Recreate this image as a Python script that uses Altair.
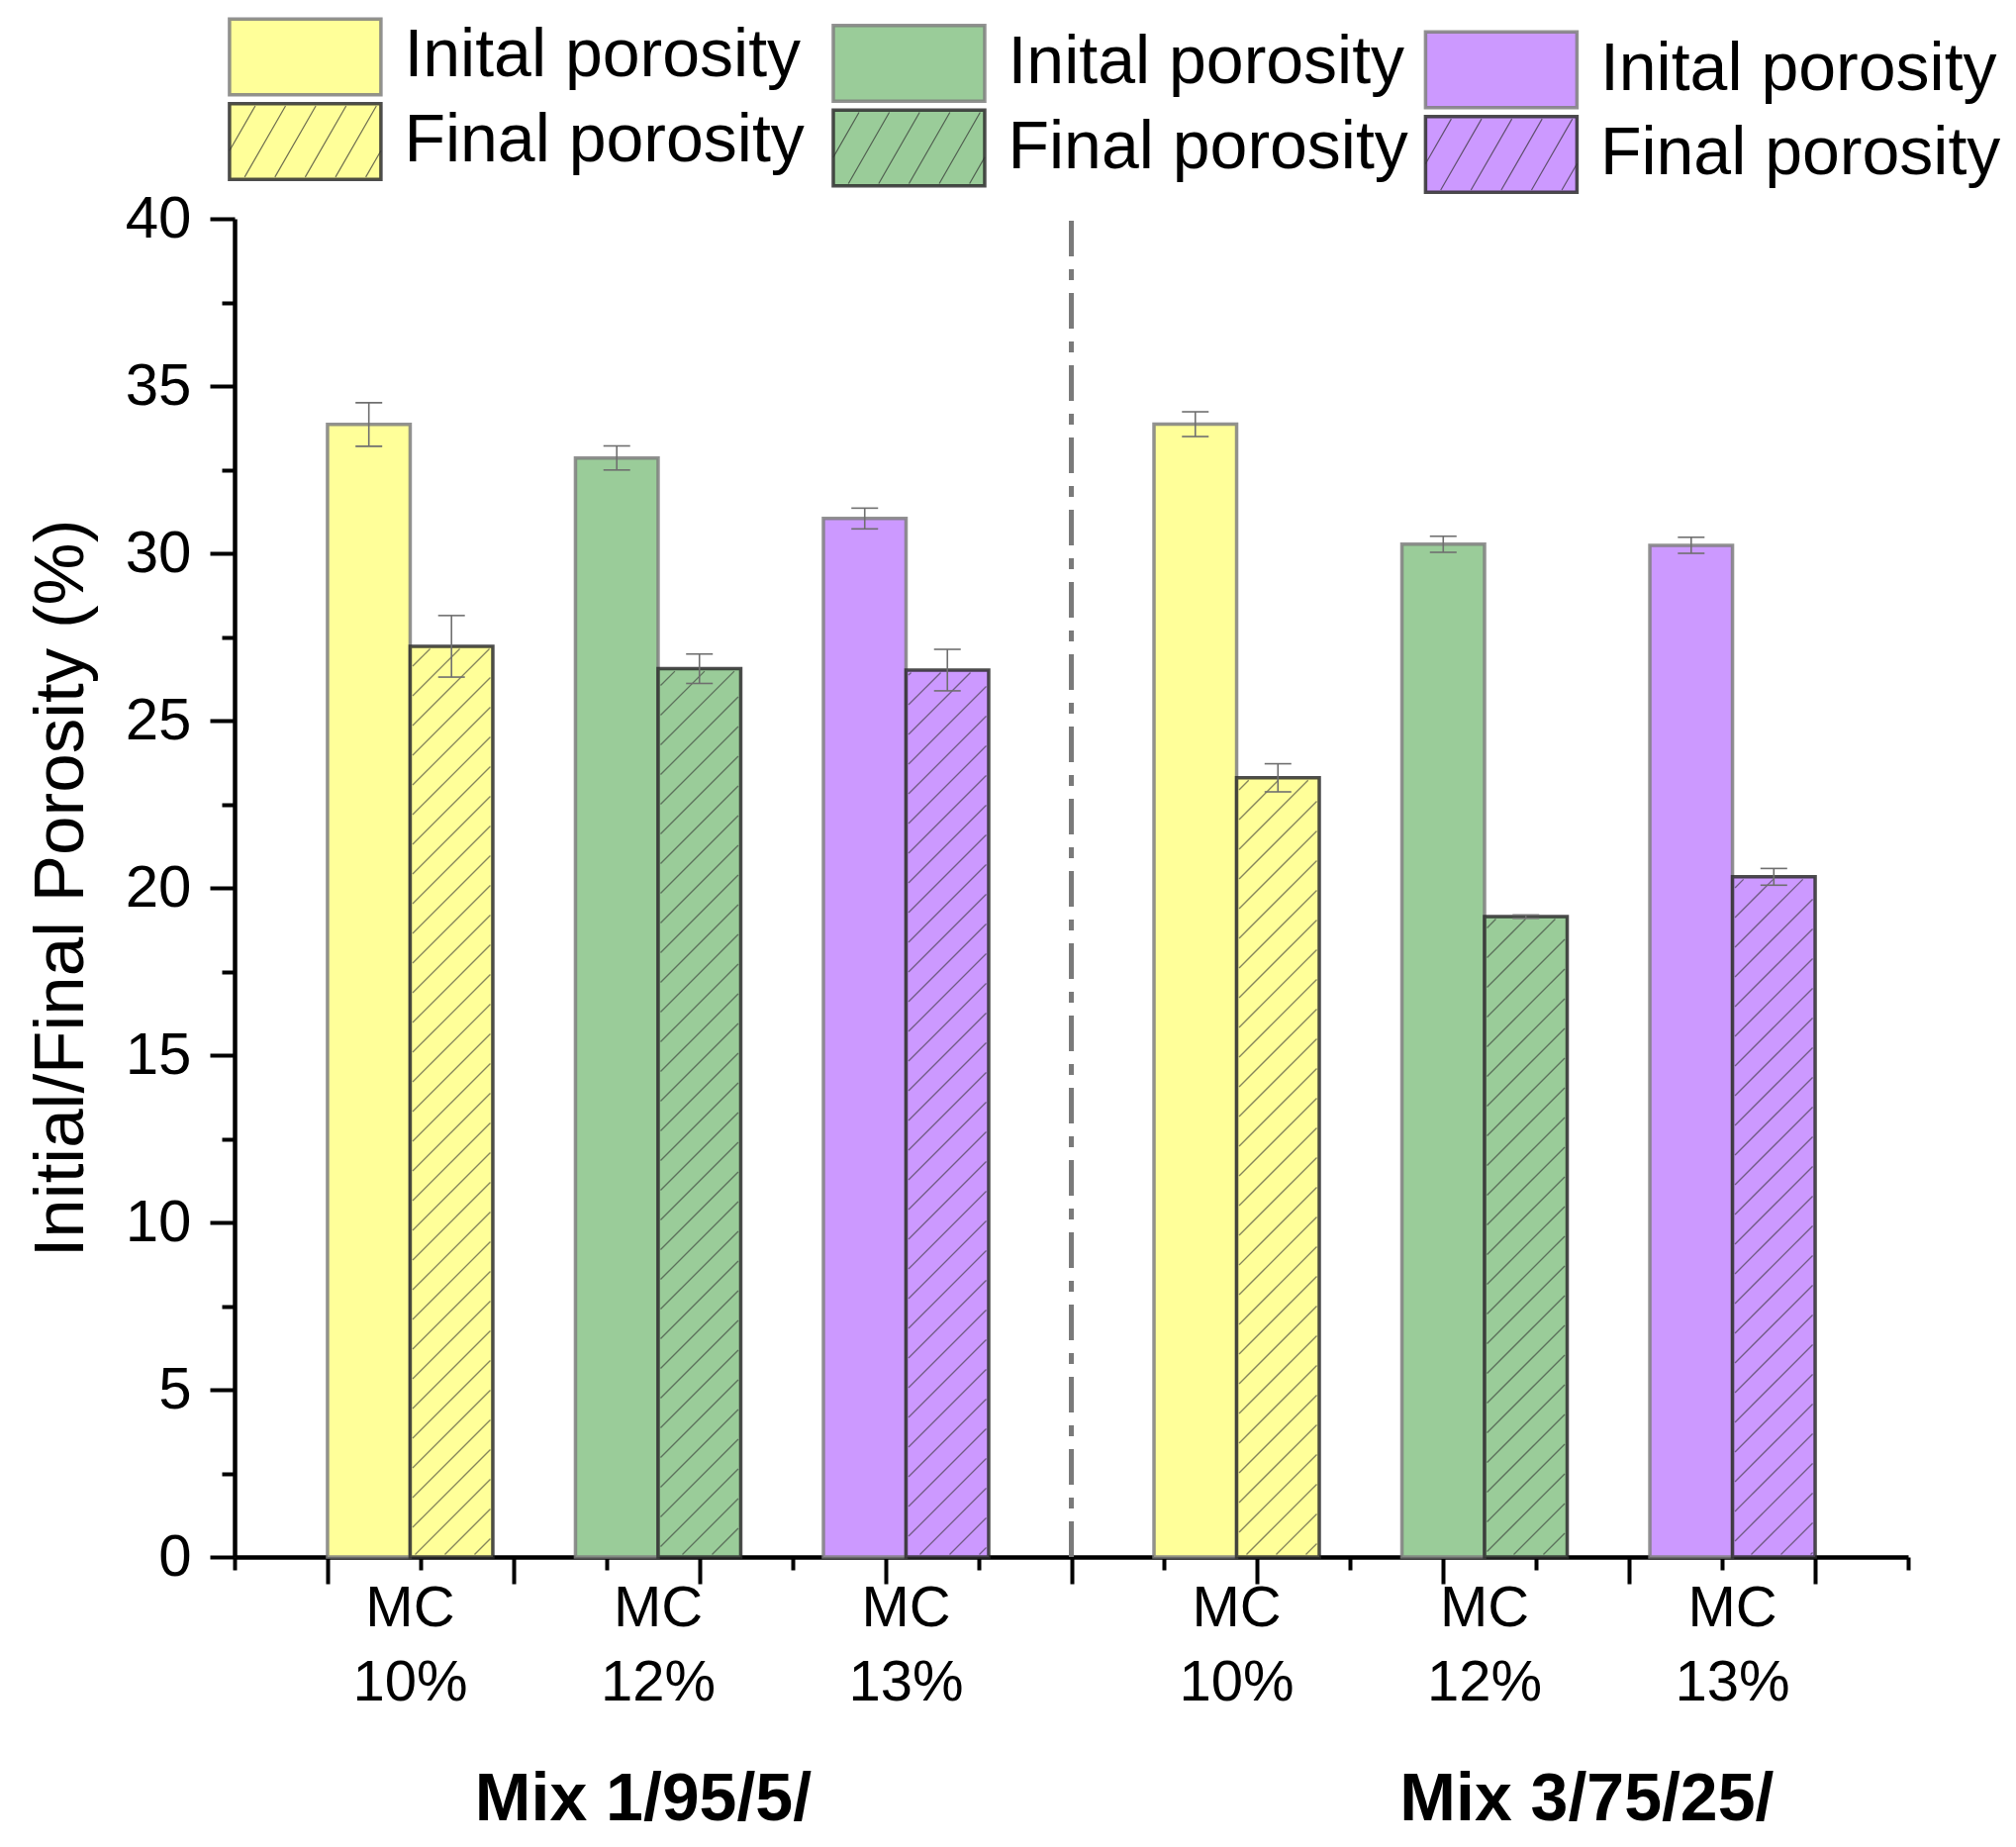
import numpy as np
import pandas as pd
import altair as alt

# values
mixes = ['Mix 1/95/5/', 'Mix 1/95/5/', 'Mix 1/95/5/',
         'Mix 3/75/25/', 'Mix 3/75/25/', 'Mix 3/75/25/']
mc_levels = ['10%', '12%', '13%', '10%', '12%', '13%']
initial_porosity = [33.85, 32.85, 31.04, 33.86, 30.27, 30.24]
initial_err = [0.65, 0.36, 0.31, 0.37, 0.24, 0.24]
final_porosity = [27.22, 26.55, 26.51, 23.29, 19.14, 20.33]
final_err = [0.92, 0.44, 0.62, 0.42, 0.05, 0.25]

mix_names = ['Mix 1/95/5/', 'Mix 3/75/25/']
mc_order = ['10%', '12%', '13%']
legend_labels = ['Inital porosity', 'Final porosity']

# styling / layout
FONT = 'Liberation Sans'
FILLS = ['#FFFF99', '#9ACC99', '#CC99FF']
W, H = 1691, 1352
X_MAX, Y_MAX = 9, 40
KX, KY = W / X_MAX, H / Y_MAX
BAR_W = 4 / 9
X_START = 0.5
MIX_LABEL_SHIFT = [-0.08, 0.55]
LEGEND_BOX_X = [0.380, 3.627, 6.812]
LEGEND_ROW_Y = [44.84, 42.31]
LEGEND_COL_DROP = 0.195

# bars
rows = []
for i in range(len(mc_levels)):
    m = mix_names.index(mixes[i])
    c = mc_order.index(mc_levels[i])
    left = X_START + BAR_W * (3 * i + m)
    rows.append(dict(kind='initial', x0=left, x1=left + BAR_W, value=initial_porosity[i],
                     err=initial_err[i], fill=FILLS[c], stroke='#7f7f7f', order=0))
for i in range(len(mc_levels)):
    m = mix_names.index(mixes[i])
    c = mc_order.index(mc_levels[i])
    left = X_START + BAR_W * (3 * i + m) + BAR_W
    rows.append(dict(kind='final', x0=left, x1=left + BAR_W, value=final_porosity[i],
                     err=final_err[i], fill=FILLS[c], stroke='#2e2e2e', order=1))
bars = pd.DataFrame(rows)
bars['xc'] = (bars['x0'] + bars['x1']) / 2
bars['lo'] = bars['value'] - bars['err']
bars['hi'] = bars['value'] + bars['err']

caps = pd.concat([bars[['xc']].assign(yv=bars['lo']), bars[['xc']].assign(yv=bars['hi'])])


def hatch(x0, x1, top, spacing=30, inset=2.5):
    X0, X1 = x0 * KX + inset, x1 * KX - inset
    Y0, Y1 = inset, top * KY - inset
    out = []
    c = np.floor((X0 - Y1) / spacing) * spacing
    while c < X1 - Y0:
        lo, hi = max(Y0, X0 - c), min(Y1, X1 - c)
        if hi - lo > 0.5:
            out.append(dict(hx=(c + lo) / KX, hy=lo / KY, hx2=(c + hi) / KX, hy2=hi / KY))
        c += spacing
    return out


hatch_rows = []
for _, r in bars[bars['kind'] == 'final'].iterrows():
    hatch_rows += hatch(r['x0'], r['x1'], r['value'])
hatch_df = pd.DataFrame(hatch_rows)

# group labels
centers = [X_START + BAR_W * (3 * i + mix_names.index(mixes[i])) + BAR_W for i in range(len(mc_levels))]
mc_df = pd.DataFrame({'x': centers, 'text': ['MC\n' + s for s in mc_levels]})
mix_x = []
for k, name in enumerate(mix_names):
    idx = [i for i in range(len(mixes)) if mixes[i] == name]
    mix_x.append((min(centers[j] for j in idx) + max(centers[j] for j in idx)) / 2 + MIX_LABEL_SHIFT[k])
mix_df = pd.DataFrame({'x': mix_x, 'text': mix_names})
m1_end = max(bars.loc[(bars.index % 6) < 3, 'x1'])
m3_start = min(bars.loc[(bars.index % 6) >= 3, 'x0'])
divider_x = (m1_end + m3_start) / 2

# legend
rect_path = 'M-1,-0.5L1,-0.5L1,0.5L-1,0.5Z'
hp = []
b = -1.6
while b < 1:
    t0, t1 = max(0, (-1 - b) / 0.54), min(1, (1 - b) / 0.54)
    if t1 - t0 > 0.02:
        hp.append('M%.3f,%.3fL%.3f,%.3f' % (b + 0.54 * t0, 0.47 - 0.94 * t0, b + 0.54 * t1, 0.47 - 0.94 * t1))
    b += 0.4
hatch_path = ''.join(hp)

leg_rows = []
for col in range(3):
    for k, lab in enumerate(legend_labels):
        leg_rows.append(dict(x=LEGEND_BOX_X[col], y=LEGEND_ROW_Y[k] - col * LEGEND_COL_DROP,
                             label=lab, fill=FILLS[col], kind=k,
                             stroke='#7f7f7f' if k == 0 else '#2e2e2e'))
leg = pd.DataFrame(leg_rows)

xs = alt.Scale(domain=[0, X_MAX], nice=False, zero=False)
ys = alt.Scale(domain=[0, Y_MAX], nice=False)

x_axis = alt.Axis(values=[v / 2 for v in range(0, 2 * X_MAX + 1)], labels=False, title=None, grid=False,
                  tickSize={'condition': {'test': 'datum.value % 1 === 0', 'value': 13}, 'value': 27},
                  tickWidth=4, domainWidth=4.5, tickColor='black', domainColor='black')
y_axis = alt.Axis(values=[v * 2.5 for v in range(0, 17)], grid=False, title='Initial/Final Porosity (%)',
                  labelExpr="datum.value % 5 === 0 ? format(datum.value, 'd') : ''",
                  tickSize={'condition': {'test': 'datum.value % 5 !== 0', 'value': 13}, 'value': 25},
                  tickWidth=4, domainWidth=4.5, tickColor='black', domainColor='black',
                  labelFont=FONT, labelFontSize=60, labelColor='black', labelPadding=19, labelOverlap=False,
                  titleFont=FONT, titleFontSize=71, titleFontWeight='normal', titleColor='black', titlePadding=28)


def X(field, **kw):
    return alt.X(field, scale=xs, axis=x_axis, **kw)


def Y(field, **kw):
    return alt.Y(field, scale=ys, axis=y_axis, **kw)


bar_layer = alt.Chart(bars).mark_rect(strokeWidth=3.5, strokeOpacity=0.85).encode(
    x=X('x0:Q'), x2='x1:Q', y=Y('value:Q'), y2=alt.datum(0),
    fill=alt.Fill('fill:N', scale=None), stroke=alt.Stroke('stroke:N', scale=None),
    order='order:Q')

hatch_layer = alt.Chart(hatch_df).mark_rule(color='#333333', strokeWidth=1.3, opacity=0.6).encode(
    x=X('hx:Q'), x2='hx2:Q', y=Y('hy:Q'), y2='hy2:Q')

err_layer = alt.Chart(bars).mark_rule(color='#6f6f6f', strokeWidth=1.6).encode(
    x=X('xc:Q'), y=Y('lo:Q'), y2='hi:Q')

cap_layer = alt.Chart(caps).mark_tick(orient='horizontal', size=27, thickness=1.6, color='#6f6f6f', opacity=1).encode(
    x=X('xc:Q'), y=Y('yv:Q'))

divider = alt.Chart(pd.DataFrame({'x': [divider_x]})).mark_rule(
    color='#7a7a7a', strokeWidth=5, strokeDash=[36, 13, 11, 13]).encode(
    x=X('x:Q'), y=alt.datum(0), y2=alt.datum(Y_MAX))

mc_text = alt.Chart(mc_df).mark_text(font=FONT, fontSize=58, lineBreak='\n', lineHeight=75,
                                     baseline='top', align='center', dy=24, color='black').encode(
    x=X('x:Q'), y=alt.datum(0), text='text:N')

mix_text = alt.Chart(mix_df).mark_text(font=FONT, fontSize=68, fontWeight='bold',
                                       baseline='top', align='center', dy=212, color='black').encode(
    x=X('x:Q'), y=alt.datum(0), text='text:N')

leg_box = alt.Chart(leg).mark_point(shape=rect_path, size=153 ** 2, filled=True, opacity=1,
                                    strokeWidth=3.5, strokeOpacity=0.85).encode(
    x=X('x:Q'), y=Y('y:Q'),
    fill=alt.Fill('fill:N', scale=None), stroke=alt.Stroke('stroke:N', scale=None))

leg_hatch = alt.Chart(leg[leg['kind'] == 1]).mark_point(
    shape=hatch_path, size=153 ** 2, filled=False, color='#333333', strokeWidth=1.2, opacity=0.7).encode(
    x=X('x:Q'), y=Y('y:Q'))

leg_text = alt.Chart(leg).mark_text(font=FONT, fontSize=68, align='left', baseline='middle',
                                    dx=100, color='black').encode(
    x=X('x:Q'), y=Y('y:Q'), text='label:N')

chart = alt.layer(
    bar_layer, hatch_layer, err_layer, cap_layer, divider, mc_text, mix_text, leg_box, leg_hatch, leg_text
).properties(
    width=W, height=H, background='white',
    padding={'left': 18, 'top': 4, 'right': 5, 'bottom': 5}
).configure_view(strokeWidth=0)

chart.save('out.html', embed_options={'renderer': 'svg', 'actions': False})
